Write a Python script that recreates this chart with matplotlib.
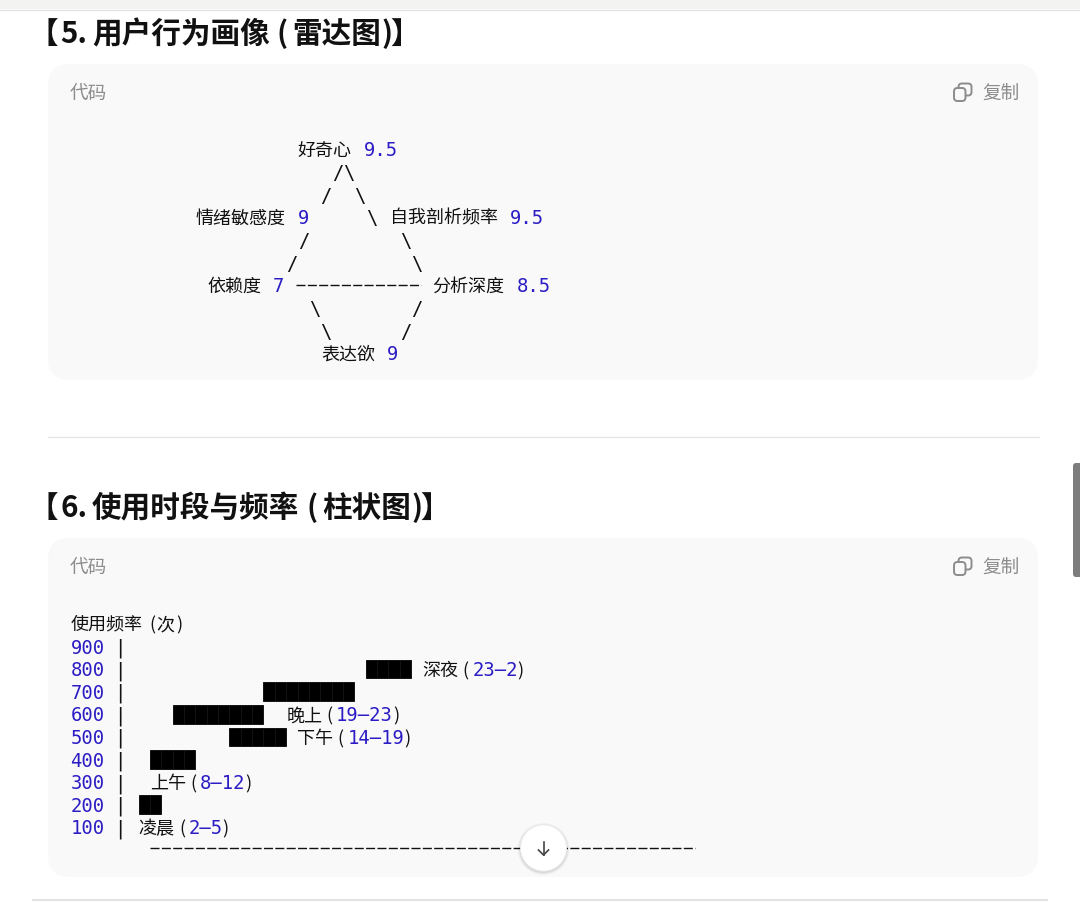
import matplotlib
matplotlib.use('Agg')
import matplotlib.pyplot as plt
from matplotlib.patches import FancyBboxPatch, Circle, Rectangle

CJK = ['Noto Sans CJK SC', 'DejaVu Sans']
MONO = ['DejaVu Sans Mono']
BLUE = '#2b1cc4'
INK = '#111111'
GRAY = '#8c8c8c'

# radar chart values
radar_names = ['好奇心', '情绪敏感度', '自我剖析频率', '依赖度', '分析深度', '表达欲']
radar_values = ['9.5', '9', '9.5', '7', '8.5', '9']

# bar chart values, bars are measured in character cells like the original text chart
freq_ticks = [900, 800, 700, 600, 500, 400, 300, 200, 100]
bar_freq = [800, 700, 600, 500, 400, 200]
bar_start = [26, 17, 9, 14, 7, 6]
bar_cells = [4, 8, 8, 5, 4, 2]
period_names = ['深夜', '晚上', '下午', '上午', '凌晨']
period_hours = ['23–2', '19–23', '14–19', '8–12', '2–5']
period_freq = [800, 600, 500, 300, 100]
period_col = [31, 19, 20, 7, 6]

CELL = 11.35
LEFT = 70.5

fig = plt.figure(figsize=(10.8, 9.03), dpi=100, facecolor='white')

# base axes works in screen pixels
ax = fig.add_axes([0, 0, 1, 1])
ax.set_xlim(0, 1080)
ax.set_ylim(903, 0)
ax.axis('off')

# second axes has the real chart scales: char column on x, frequency on y
bar_ax = fig.add_axes([0, 0, 1, 1], zorder=2)
bar_ax.set_xlim(-LEFT / CELL, (1080 - LEFT) / CELL)
per_px = 800 / (827 - 646)
bar_ax.set_ylim(100 - (903 - 827) * per_px, 100 + 827 * per_px)
bar_ax.axis('off')


def card(top, bottom):
    ax.add_patch(FancyBboxPatch((48 + 22, top + 22), 990 - 44, bottom - top - 44,
                                boxstyle='round,pad=22,rounding_size=22',
                                fc='#f9f9f9', ec='none', zorder=1))


def cjk(x, y, s, size=13, color=INK, weight='normal'):
    ax.text(x, y + 1, s, family=CJK, fontsize=size, color=color, weight=weight,
            ha='left', va='baseline', zorder=3)


def mono(x, y, s, color=INK):
    ax.text(x, y + 1, s, family=MONO, fontsize=13.55, color=color,
            ha='left', va='baseline', zorder=3)


def title(y, head, name, inner):
    cjk(29, y, '【', 21.3, weight='bold')
    cjk(60, y, head, 21.3, weight='bold')
    cjk(92, y, name, 21.3, weight='bold')
    x = 92 + 29.6 * len(name)
    cjk(x + 7, y, '(', 21.3, weight='bold')
    cjk(x + 23, y, inner, 21.3, weight='bold')
    x = x + 23 + 29.6 * len(inner)
    cjk(x, y, ')', 21.3, weight='bold')
    cjk(x + 9, y, '】', 21.3, weight='bold')


def copy_icon(y):
    ax.add_patch(FancyBboxPatch((958.5, y - 7.5), 13, 12, boxstyle='round,pad=0,rounding_size=3.5',
                                fc='none', ec=GRAY, lw=1.4, zorder=3))
    ax.add_patch(FancyBboxPatch((954, y - 3), 11.5, 13, boxstyle='round,pad=0,rounding_size=3.5',
                                fc='#f9f9f9', ec=GRAY, lw=1.4, zorder=4))
    cjk(982, y + 6, '复制', 13.4, GRAY)


def dash_rule(x0, cells, y):
    # ascii dashes, one dash per character cell
    ax.plot([x0, x0 + cells * CELL], [y, y], color=INK, lw=1, dashes=(6.5, 1.67), zorder=3)


# page chrome
ax.add_patch(Rectangle((0, 0), 1080, 10, fc='#f3f3f2', ec='none'))
ax.plot([0, 1080], [10.5, 10.5], color='#e2e2e2', lw=1)
ax.plot([48, 1039], [438, 438], color='#e6e6e6', lw=1)
ax.add_patch(FancyBboxPatch((1076, 467), 8, 108, boxstyle='round,pad=3,rounding_size=3',
                            fc='#7d7d7d', ec='none', zorder=5))
ax.plot([33, 1047], [901.5, 901.5], color='#e2e2e2', lw=1.5)

card(65, 381)
card(539, 878)

title(42, '5.', '用户行为画像', '雷达图')
title(516, '6.', '使用时段与频率', '柱状图')

cjk(70, 98, '代码', 13.4, GRAY)
cjk(70, 572, '代码', 13.4, GRAY)
copy_icon(92)
copy_icon(566)

# radar chart, label and value pairs
radar_pos = [(298, 364, 155), (196, 298, 223), (390, 510, 223),
             (207, 273, 291), (432, 517, 291), (321, 387, 359)]
for name, value, (nx, vx, by) in zip(radar_names, radar_values, radar_pos):
    cjk(nx, by, name)
    mono(vx, by, value, BLUE)

# radar chart, the ascii strokes
radar_strokes = [(332, 178, '/'), (343, 178, '\\'), (320, 201, '/'), (354, 201, '\\'),
                 (366, 223, '\\'), (298, 246, '/'), (400, 246, '\\'), (286, 269, '/'),
                 (411, 269, '\\'), (309, 314, '\\'), (411, 314, '/'), (320, 337, '\\'),
                 (400, 337, '/')]
for x, y, s in radar_strokes:
    mono(x, y, s)
dash_rule(296, 11, 285.5)

# bar chart header and x axis line
cjk(71, 629, '使用频率')
cjk(149, 629, '(')
cjk(156, 629, '次')
cjk(176, 629, ')')
dash_rule(150, 48, 849.5)

# scroll down button sits over the axis line
for r, a in [(26, 0.03), (25, 0.04), (24, 0.06)]:
    ax.add_patch(Circle((543.5, 850), r, fc='black', alpha=a, ec='none', zorder=5))
ax.add_patch(Circle((543.5, 849), 23, fc='white', ec='#eeeeee', lw=0.6, zorder=6))
ax.plot([543.5, 543.5], [843, 856], color='#444444', lw=1.2, zorder=7)
ax.plot([538.5, 543.5, 548.5], [851, 856, 851], color='#444444', lw=1.2, zorder=7)


def row_text(col, freq, s, color=INK, family=MONO, size=13.55):
    bar_ax.annotate(s, (col, freq), xytext=(0, -5.4), textcoords='offset points',
                    family=family, fontsize=size, color=color, ha='left', va='baseline')


# frequency ticks and the axis bar
for f in freq_ticks:
    row_text(0, f, str(f), BLUE)
    row_text(3.85, f, '|')

# block glyphs sit a little below the text row, each cell is its own rectangle
for f, start, cells in zip(bar_freq, bar_start, bar_cells):
    for i in range(cells):
        bar_ax.barh(f - 6, 1, left=start + i, height=82, color='black',
                    edgecolor='#141414', linewidth=0.7)

for name, hours, f, c in zip(period_names, period_hours, period_freq, period_col):
    row_text(c, f, name, family=CJK, size=13)
    row_text(c + 3.55, f, '(', family=CJK, size=13)
    row_text(c + 4.4, f, hours, BLUE)
    row_text(c + 4.4 + len(hours), f, ')', family=CJK, size=13)

fig.savefig('out.png', dpi=100)
